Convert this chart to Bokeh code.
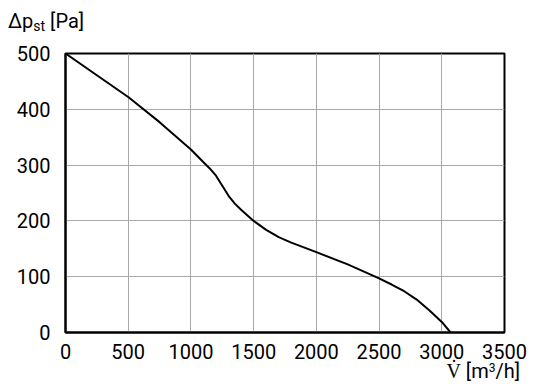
from bokeh.plotting import figure
from bokeh.models import FixedTicker, Range1d, Div
from bokeh.layouts import column
from bokeh.embed import file_html
from bokeh.resources import INLINE

flow = [0, 250, 500, 750, 1000, 1100, 1150, 1200, 1250, 1300, 1350, 1400, 1500, 1600, 1700, 1800, 2000, 2250, 2500, 2600, 2700, 2800, 2900, 3000, 3070]
pressure = [500, 461, 422, 377, 328, 305, 294, 281, 263, 245, 231, 220, 200, 184, 171, 161, 144, 122, 97, 86, 74, 59, 40, 19, 0]
x_ticks = [0, 500, 1000, 1500, 2000, 2500, 3000, 3500]
y_ticks = [0, 100, 200, 300, 400, 500]
y_title = 'Δp<span style="font-size:14px;vertical-align:-3px">st</span> [Pa]'
x_title = 'V\u0307 [m<span style="font-size:12px;vertical-align:6px">3</span>/h]'

FONT = "Roboto"

p = figure(width=532, height=326, output_backend="svg", toolbar_location=None,
           x_range=Range1d(0, 3500), y_range=Range1d(0, 500),
           min_border_left=65, min_border_right=28, min_border_top=17, min_border_bottom=30)

p.line(flow, pressure, line_color="black", line_width=2, line_join="round")

for ax in (p.xaxis, p.yaxis):
    ax.major_tick_line_color = None
    ax.minor_tick_line_color = None
    ax.axis_line_color = "black"
    ax.axis_line_width = 2
    ax.major_label_text_font = FONT
    ax.major_label_text_font_size = "20px"
    ax.major_label_text_color = "black"
p.xaxis.ticker = FixedTicker(ticks=x_ticks)
p.yaxis.ticker = FixedTicker(ticks=y_ticks)
p.xaxis.major_label_standoff = 5
p.yaxis.major_label_standoff = 9

p.xgrid.ticker = FixedTicker(ticks=x_ticks)
p.ygrid.ticker = FixedTicker(ticks=y_ticks)
for g in (p.xgrid, p.ygrid):
    g.grid_line_color = "#a8a8a8"
    g.grid_line_width = 1

p.outline_line_color = "black"
p.outline_line_width = 2
p.outline_line_alpha = 1

top = Div(text=y_title, width=532, height=36,
          styles={"font-family": FONT, "font-size": "20px", "line-height": "24px",
                  "padding-left": "8px", "padding-top": "9px", "color": "black",
                  "box-sizing": "border-box", "margin": "0"})
bottom = Div(text=x_title, width=532, height=26,
             styles={"font-family": FONT, "font-size": "20px", "line-height": "12px",
                     "text-align": "right", "padding-right": "12px", "color": "black",
                     "box-sizing": "border-box", "margin": "0"})

layout = column(top, p, bottom, spacing=0)

open("out.html", "w").write(file_html(layout, INLINE))
